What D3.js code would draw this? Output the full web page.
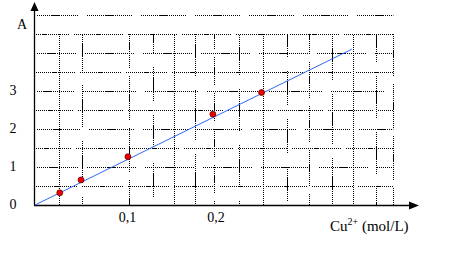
<!DOCTYPE html>
<html>
<head>
<meta charset="utf-8">
<script src="https://cdn.jsdelivr.net/npm/d3@7"></script>
<style>
  body { margin: 0; background: #fff; }
  text { font-family: "Liberation Serif", "Times New Roman", serif; fill: #000; }
</style>
</head>
<body>
<script>
// measured points: Cu2+ concentration (mol/L) vs absorbance A
var concX = [0.028, 0.052, 0.105, 0.201, 0.256];
var absA  = [0.32, 0.66, 1.27, 2.39, 2.96];

// fitted line ends
var fitX = [0, 0.358];
var fitA = [0, 4.1];

var xTicks = [0.1, 0.2];
var xTickLabels = ["0,1", "0,2"];
var yTicks = [0, 1, 2, 3];
var yTickLabels = ["0", "1", "2", "3"];

// hand-drawn looking grid
var gridX = [0.027, 0.053, 0.106, 0.133, 0.157, 0.181, 0.202, 0.230, 0.258, 0.285, 0.310, 0.336, 0.359, 0.385, 0.405];
var gridY = [0.5, 1, 1.5, 2, 2.5, 3, 3.5, 4, 4.5, 5];

var W = 453, H = 258;

var x = d3.scaleLinear().domain([0, 0.2]).range([35, 212]);
var y = d3.scaleLinear().domain([0, 5]).range([205, 15]);

var svg = d3.select("body").append("svg")
    .attr("width", W)
    .attr("height", H);

// dotted pattern with breaks, so it looks like the scanned grid
function dashes(len, gap) {
  var a = [];
  for (var i = 0; i < len; i += 2) a.push(1, 1);
  a.push(gap);
  return a.join(",");
}

var grid = svg.append("g").attr("stroke", "#000").attr("stroke-width", 1);

grid.selectAll("line.h")
  .data(gridY)
  .enter().append("line")
    .attr("class", "h")
    .attr("x1", x(0) + 1)
    .attr("x2", x(0.405))
    .attr("y1", function(d) { return Math.round(y(d)) + 0.5; })
    .attr("y2", function(d) { return Math.round(y(d)) + 0.5; })
    .attr("stroke-dasharray", function(d, i) { return dashes(18 + (i % 3) * 2, 5 + (i % 2) * 4); })
    .attr("stroke-dashoffset", function(d, i) { return (i * 7) % 20; });

grid.selectAll("line.v")
  .data(gridX)
  .enter().append("line")
    .attr("class", "v")
    .attr("x1", function(d) { return Math.round(x(d)) + 0.5; })
    .attr("x2", function(d) { return Math.round(x(d)) + 0.5; })
    .attr("y1", y(4.5))
    .attr("y2", y(0))
    .attr("stroke-dasharray", function(d, i) { return (i % 4 == 0) ? dashes(200, 0) : dashes(10 + (i % 3) * 4, 8 + (i % 2) * 6); })
    .attr("stroke-dashoffset", function(d, i) { return (i * 5) % 17; });

// axes
var axes = svg.append("g").attr("stroke", "#000").attr("stroke-width", 1.3);
axes.append("line")
    .attr("x1", 34.5).attr("x2", 34.5)
    .attr("y1", 205).attr("y2", 8);
axes.append("line")
    .attr("x1", 34).attr("x2", 413)
    .attr("y1", 205.5).attr("y2", 205.5);

svg.append("path")
    .attr("d", "M34.5,2 L30.5,11 L38.5,11 Z")
    .attr("fill", "#000");
svg.append("path")
    .attr("d", "M419,205.5 L409,201.5 L409,209.5 Z")
    .attr("fill", "#000");

// fitted line
svg.append("line")
    .attr("x1", x(fitX[0])).attr("y1", y(fitA[0]))
    .attr("x2", x(fitX[1])).attr("y2", y(fitA[1]))
    .attr("stroke", "#2f6cf0")
    .attr("stroke-width", 1);

// points
svg.selectAll("circle.pt")
  .data(concX)
  .enter().append("circle")
    .attr("class", "pt")
    .attr("cx", function(d) { return x(d); })
    .attr("cy", function(d, i) { return y(absA[i]); })
    .attr("r", 3)
    .attr("fill", "#ee0000")
    .attr("stroke", "#550000")
    .attr("stroke-width", 0.7);

// tick labels
svg.selectAll("text.xt")
  .data(xTicks)
  .enter().append("text")
    .attr("class", "xt")
    .attr("x", function(d) { return x(d) + 4; })
    .attr("y", 222)
    .attr("text-anchor", "middle")
    .attr("font-size", 14)
    .text(function(d, i) { return xTickLabels[i]; });

svg.selectAll("text.yt")
  .data(yTicks)
  .enter().append("text")
    .attr("class", "yt")
    .attr("x", 13)
    .attr("y", function(d) { return y(d) + 4; })
    .attr("text-anchor", "middle")
    .attr("font-size", 14)
    .text(function(d, i) { return yTickLabels[i]; });

svg.append("text")
    .attr("x", 22).attr("y", 29)
    .attr("text-anchor", "middle")
    .attr("font-size", 14)
    .text("A");

var lab = svg.append("text")
    .attr("x", 330).attr("y", 231)
    .attr("font-size", 15);
lab.append("tspan").text("Cu");
lab.append("tspan").attr("dy", -6).attr("font-size", 10).text("2+");
lab.append("tspan").attr("dy", 6).text(" (mol/L)");
</script>
</body>
</html>
